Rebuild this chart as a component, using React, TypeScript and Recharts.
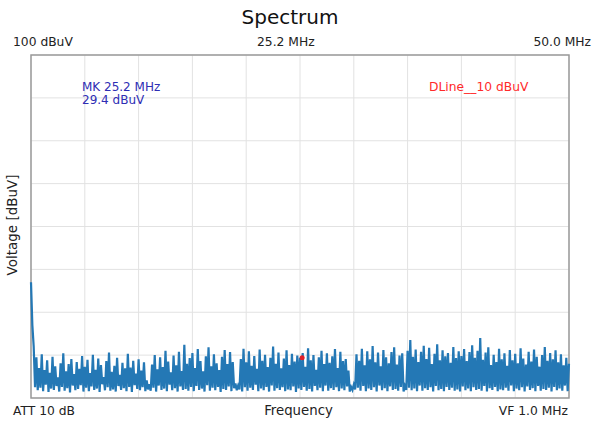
import React from "react";
import {
  LineChart,
  Line,
  XAxis,
  YAxis,
  CartesianGrid,
  ReferenceArea,
  ReferenceDot,
} from "recharts";

// Frequency ticks (MHz) and voltage ticks (dBuV)
const freqTicks = [0, 5, 10, 15, 20, 25, 30, 35, 40, 45, 50];
const voltTicks = [20, 30, 40, 50, 60, 70, 80, 90, 100];

// Trace sampled every 0.125 MHz from 0 to 50 MHz (dBuV)
const traceValues: number[] = [
  // 0-5 MHz
  47, 37, 32, 22.5, 29.5, 21.8, 27, 22.4, 30.2, 21.6, 26.5, 23.1, 28.8, 21.4, 25.9, 22.2, 29.6, 21.9, 27.4, 22.8,
  24.8, 21.5, 28.1, 22.6, 30.4, 21.7, 26.2, 22.3, 27.9, 21.3, 29.1, 22.9, 25.6, 21.8, 28.4, 22.1, 26.8, 23.0, 29.8, 21.5,
  // 5-10 MHz
  27.3, 22.4, 28.9, 21.6, 25.8, 22.7, 30.1, 21.9, 26.6, 22.2, 29.2, 21.4, 27.7, 23.2, 24.9, 21.8, 28.6, 22.5, 30.6, 21.7,
  26.1, 22.0, 27.5, 21.5, 29.4, 22.8, 25.4, 21.9, 28.2, 22.3, 26.9, 21.6, 30.3, 22.6, 27.1, 21.4, 28.7, 23.0, 25.7, 22.1,
  // 10-15 MHz
  29.0, 21.8, 26.4, 22.5, 28.3, 21.6, 24.1, 22.0, 23.2, 21.7, 27.8, 22.4, 30.0, 21.5, 26.7, 22.9, 29.5, 21.9, 27.2, 22.2,
  31.0, 21.6, 28.5, 23.1, 26.0, 21.8, 29.9, 22.3, 27.6, 21.5, 30.8, 22.7, 26.3, 21.9, 32.4, 22.1, 28.0, 21.7, 29.3, 22.6,
  // 15-20 MHz
  30.5, 21.6, 27.0, 22.8, 31.4, 21.9, 28.6, 22.2, 26.2, 21.5, 29.7, 23.0, 31.8, 21.7, 27.4, 22.4, 30.2, 21.8, 28.1, 22.6,
  26.5, 21.4, 29.6, 22.1, 31.2, 21.9, 27.9, 22.7, 30.7, 21.6, 28.4, 22.3, 23.4, 21.8, 22.9, 22.0, 29.1, 21.5, 31.5, 22.5,
  // 20-25 MHz
  28.3, 21.7, 30.9, 22.4, 27.5, 21.9, 29.8, 23.1, 26.8, 21.6, 31.3, 22.2, 28.7, 21.8, 30.1, 22.6, 27.2, 21.5, 29.4, 22.9,
  32.0, 21.7, 28.0, 22.3, 30.6, 21.9, 26.9, 22.5, 29.2, 21.6, 31.1, 22.0, 27.7, 21.8, 30.3, 22.7, 28.5, 21.4, 29.9, 22.2,
  // 25-30 MHz
  29.4, 21.9, 30.5, 22.6, 27.3, 21.7, 31.6, 22.1, 28.8, 21.5, 30.0, 22.8, 26.6, 21.8, 29.5, 22.4, 31.0, 21.6, 27.9, 22.9,
  30.4, 21.7, 28.2, 22.3, 29.7, 21.9, 31.4, 22.5, 27.0, 21.6, 30.8, 22.2, 28.6, 21.8, 29.1, 22.7, 26.4, 21.5, 22.6, 21.9,
  // 30-35 MHz
  23.1, 22.0, 30.2, 22.4, 28.7, 21.7, 31.5, 22.8, 27.6, 21.6, 30.9, 22.2, 29.0, 21.9, 32.1, 22.5, 28.3, 21.5, 30.6, 22.9,
  27.4, 21.8, 31.2, 22.3, 29.5, 21.6, 28.1, 22.7, 30.7, 21.9, 31.8, 22.1, 27.8, 21.7, 29.9, 22.6, 30.4, 21.5, 22.8, 21.9,
  // 35-40 MHz
  31.0, 22.4, 33.5, 21.8, 29.6, 22.2, 31.3, 21.6, 28.4, 22.9, 30.8, 21.7, 32.2, 22.3, 29.1, 21.9, 31.7, 22.5, 27.9, 21.5,
  30.3, 22.8, 32.5, 21.8, 28.8, 22.1, 31.1, 21.6, 29.7, 22.6, 30.5, 21.9, 28.2, 22.4, 31.9, 21.7, 29.3, 22.0, 30.9, 21.5,
  // 40-45 MHz
  29.8, 22.7, 31.4, 21.8, 28.6, 22.2, 30.7, 21.6, 32.3, 22.5, 29.4, 21.9, 31.0, 22.1, 34.0, 21.7, 28.9, 22.8, 30.6, 21.5,
  31.8, 22.3, 27.7, 21.9, 30.1, 22.6, 28.4, 21.6, 31.5, 22.0, 29.0, 21.8, 30.4, 22.4, 27.5, 21.7, 31.2, 22.9, 28.8, 21.6,
  // 45-50 MHz
  30.3, 22.2, 28.1, 21.8, 31.6, 22.5, 29.2, 21.5, 27.8, 22.7, 30.8, 21.9, 28.5, 22.3, 31.3, 21.6, 29.6, 22.8, 27.3, 21.7,
  30.0, 22.1, 31.9, 21.9, 28.7, 22.4, 30.5, 21.5, 29.0, 22.6, 31.1, 21.8, 28.3, 22.2, 30.2, 21.7, 27.6, 22.9, 29.4, 21.6,
  28.0,
];
const freqStep = 0.125;

// Marker
const markerFreq = 25.2;
const markerLevel = 29.4;

const data = traceValues.map((v, i) => ({ freq: i * freqStep, level: v }));

const FONT = "'DejaVu Sans', Verdana, sans-serif";
const TXT = "#222";

export default function App() {
  return (
    <div style={{ position: "absolute", left: 0, top: 0, width: 594, height: 424, background: "#fff" }}>
      <LineChart
        width={594}
        height={424}
        data={data}
        margin={{ top: 55, right: 25, bottom: 26, left: 31 }}
      >
        <XAxis type="number" dataKey="freq" domain={[0, 50]} ticks={freqTicks} hide />
        <YAxis type="number" domain={[20, 100]} ticks={voltTicks} hide />
        <CartesianGrid stroke="#e2e2e2" strokeWidth={1} />
        <ReferenceArea x1={0} x2={50} y1={20} y2={100} fill="none" stroke="#9a9a9a" strokeWidth={1.5} />
        <Line
          type="linear"
          dataKey="level"
          stroke="#2478b5"
          strokeWidth={2.2}
          strokeLinejoin="miter"
          dot={false}
          isAnimationActive={false}
        />
        <ReferenceDot x={markerFreq} y={markerLevel} r={2.5} fill="#e0202a" stroke="none" />
      </LineChart>
      <svg
        width={594}
        height={424}
        style={{ position: "absolute", left: 0, top: 0, pointerEvents: "none" }}
        fontFamily={FONT}
      >
        <text x={290} y={24} fontSize={20} textAnchor="middle" fill="#111">Spectrum</text>
        <text x={13} y={46} fontSize={12.3} fill={TXT}>100 dBuV</text>
        <text x={257} y={46} fontSize={12.3} fill={TXT}>25.2 MHz</text>
        <text x={591} y={46} fontSize={12.3} textAnchor="end" fill={TXT}>50.0 MHz</text>
        <text x={82} y={91} fontSize={12} fill="#2e2eb4">MK 25.2 MHz</text>
        <text x={82} y={104} fontSize={12} fill="#2e2eb4">29.4 dBuV</text>
        <text x={429} y={91} fontSize={12.3} fill="#ff2a2a">DLine__10 dBuV</text>
        <text x={13} y={415} fontSize={12.3} fill={TXT}>ATT 10 dB</text>
        <text x={298.5} y={415} fontSize={13.3} textAnchor="middle" fill={TXT}>Frequency</text>
        <text x={568} y={415} fontSize={12.3} textAnchor="end" fill={TXT}>VF 1.0 MHz</text>
        <text
          x={0}
          y={0}
          fontSize={13.5}
          textAnchor="middle"
          fill={TXT}
          transform="translate(17,225) rotate(-90)"
        >
          Voltage [dBuV]
        </text>
      </svg>
    </div>
  );
}
